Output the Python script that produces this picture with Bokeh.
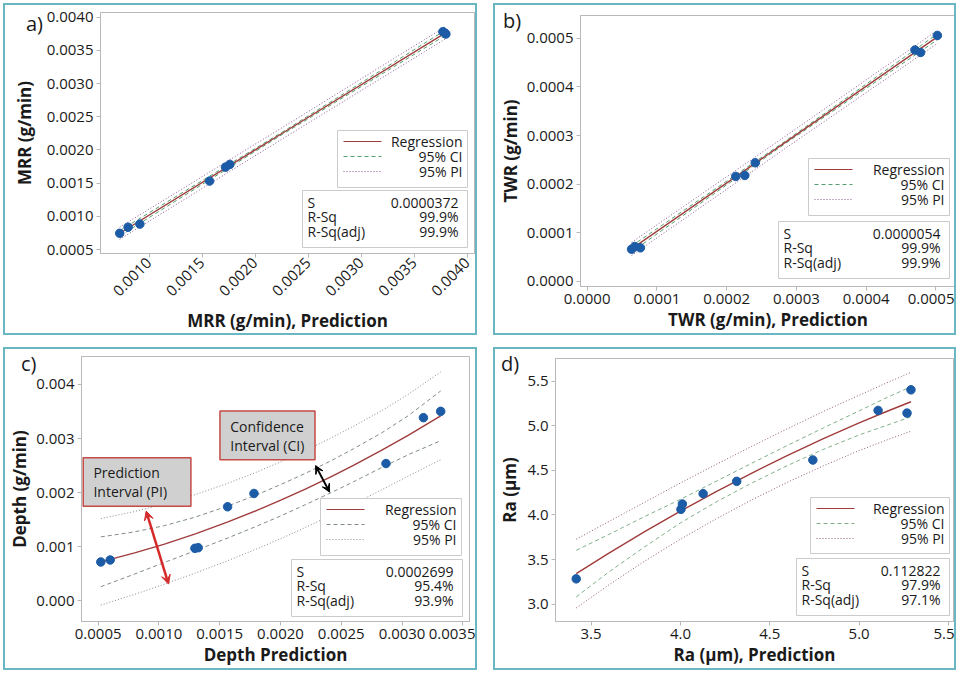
import math
from bokeh.plotting import figure
from bokeh.models import (Range1d, FixedTicker, PrintfTickFormatter, BoxAnnotation,
                          Label, Arrow, VeeHead, GridBox, Div)
from bokeh.embed import file_html
from bokeh.resources import INLINE

FONT = "Open Sans"

# ---------------- data ----------------
# a) MRR
a_pred = [0.000724, 0.000803, 0.000914, 0.001571, 0.001721, 0.001762, 0.003769, 0.003788, 0.003797]
a_obs = [0.000744, 0.000836, 0.000883, 0.001531, 0.001741, 0.001782, 0.003781, 0.003761, 0.003745]
a_fit_x = [0.000724, 0.002260, 0.003797]
a_fit = [0.000745, 0.002255, 0.003768]
a_ci_hi = [0.000785, 0.002273, 0.003808]
a_ci_lo = [0.000705, 0.002237, 0.003728]
a_pi_hi = [0.000837, 0.002341, 0.003860]
a_pi_lo = [0.000653, 0.002169, 0.003676]
a_xticks = [0.0010, 0.0015, 0.0020, 0.0025, 0.0030, 0.0035, 0.0040]
a_yticks = [0.0005, 0.0010, 0.0015, 0.0020, 0.0025, 0.0030, 0.0035, 0.0040]
a_stats = ["0.0000372", "99.9%", "99.9%"]

# b) TWR
b_pred = [0.0000637, 0.0000684, 0.0000764, 0.000213, 0.000226, 0.000241, 0.000470, 0.000478, 0.000502]
b_obs = [0.0000662, 0.0000718, 0.0000690, 0.000216, 0.000218, 0.000244, 0.000476, 0.000471, 0.000506]
b_fit_x = [0.0000637, 0.000283, 0.000502]
b_fit = [0.0000668, 0.000285, 0.000503]
b_ci_hi = [0.0000728, 0.0002875, 0.000509]
b_ci_lo = [0.0000608, 0.0002825, 0.000497]
b_pi_hi = [0.0000803, 0.0002975, 0.0005165]
b_pi_lo = [0.0000533, 0.0002725, 0.0004895]
b_xticks = [0.0000, 0.0001, 0.0002, 0.0003, 0.0004, 0.0005]
b_yticks = [0.0000, 0.0001, 0.0002, 0.0003, 0.0004, 0.0005]
b_stats = ["0.0000054", "99.9%", "99.9%"]

# c) Depth
c_pred = [0.000522, 0.000599, 0.001296, 0.001323, 0.001565, 0.001782, 0.002868, 0.003176, 0.003318]
c_obs = [0.000719, 0.000756, 0.000971, 0.000983, 0.001739, 0.001985, 0.002538, 0.003386, 0.003502]
c_fit_x = [0.000522, 0.000800, 0.001046, 0.001300, 0.001568, 0.001800, 0.002007,
           0.002200, 0.002418, 0.002600, 0.002830, 0.003050, 0.003318]
c_fit = [0.000722, 0.000886, 0.001050, 0.001239, 0.001459, 0.001666, 0.001865,
         0.002062, 0.002297, 0.002505, 0.002781, 0.003060, 0.003420]
c_ci_hi = [0.001182, 0.001276, 0.001390, 0.001549, 0.001754, 0.001956, 0.002155,
           0.002352, 0.002592, 0.002810, 0.003101, 0.003420, 0.003880]
c_ci_lo = [0.000262, 0.000496, 0.000710, 0.000929, 0.001164, 0.001376, 0.001575,
           0.001772, 0.002002, 0.002200, 0.002461, 0.002700, 0.002960]
c_pi_hi = [0.001522, 0.001651, 0.001790, 0.001964, 0.002174, 0.002376, 0.002575,
           0.002772, 0.003012, 0.003225, 0.003511, 0.003815, 0.004230]
c_pi_lo = [-0.000078, 0.000121, 0.000310, 0.000514, 0.000744, 0.000956, 0.001155,
           0.001352, 0.001582, 0.001785, 0.002051, 0.002305, 0.002610]
c_xticks = [0.0005, 0.0010, 0.0015, 0.0020, 0.0025, 0.0030, 0.0035]
c_yticks = [0.000, 0.001, 0.002, 0.003, 0.004]
c_stats = ["0.0002699", "95.4%", "93.9%"]
c_pi_arrow = [0.000895, 0.001660, 0.001079, 0.000310]
c_ci_arrow = [0.002289, 0.002500, 0.002404, 0.002010]
# note boxes: [left, right, bottom, top] and their two text lines
c_note_boxes = [[0.001502, 0.002284, 0.002610, 0.003508],
                [0.000377, 0.001263, 0.001751, 0.002647]]
c_note_lines = [["Confidence", "Interval (CI)"], ["Prediction", "Interval (PI)"]]
c_note_text_x = [0.001587, 0.000461]
c_note_text_y = [[0.003231, 0.002876], [0.002365, 0.002015]]

# d) Ra
d_pred = [3.417, 4.003, 4.011, 4.127, 4.315, 4.741, 5.106, 5.268, 5.290]
d_obs = [3.284, 4.063, 4.123, 4.239, 4.377, 4.616, 5.172, 5.142, 5.403]
d_fit_x = [3.417, 3.600, 3.800, 4.000, 4.200, 4.400, 4.600, 4.800, 5.000, 5.150, 5.290]
d_fit = [3.343, 3.572, 3.813, 4.043, 4.262, 4.470, 4.668, 4.856, 5.032, 5.157, 5.269]
d_ci_hi = [3.604, 3.782, 3.983, 4.175, 4.378, 4.581, 4.781, 4.976, 5.167, 5.312, 5.437]
d_ci_lo = [3.082, 3.362, 3.643, 3.911, 4.146, 4.359, 4.555, 4.736, 4.897, 5.002, 5.101]
d_pi_hi = [3.728, 3.927, 4.143, 4.358, 4.567, 4.770, 4.968, 5.161, 5.342, 5.477, 5.599]
d_pi_lo = [2.958, 3.217, 3.483, 3.728, 3.957, 4.170, 4.368, 4.551, 4.722, 4.837, 4.939]
d_xticks = [3.5, 4.0, 4.5, 5.0, 5.5]
d_yticks = [3.0, 3.5, 4.0, 4.5, 5.0, 5.5]
d_stats = ["0.112822", "97.9%", "97.1%"]

legend_names = ["Regression", "95% CI", "95% PI"]
stat_names = ["S", "R-Sq", "R-Sq(adj)"]

# ---------------- styling ----------------
PT_COLOR = "#1c5ba6"
REG_COLOR = "#a03c3c"
CI_COLOR = "#55a070"
PI_COLOR = "#8e5a94"
GRID_GRAY = "#b8b8b8"
TXT = "#1a1a1a"
BORDER = "2px solid #6ab7c3"


def add_box(p, L, R, B, T):
    p.add_layout(BoxAnnotation(left=L, right=R, bottom=B, top=T,
                               left_units="screen", right_units="screen",
                               bottom_units="screen", top_units="screen",
                               fill_color="white", fill_alpha=1.0,
                               line_color="#cbcbcb", line_alpha=1.0, line_width=1))


def add_legend(p, FW, roff, width, bottom, height, colors, dashes):
    R = FW - roff
    L = R - width
    T = bottom + height
    add_box(p, L, R, bottom, T)
    for name, off, col, dash in zip(legend_names, [11, 26, 41], colors, dashes):
        yc = T - off
        p.add_layout(Arrow(x_start=L + 6, y_start=yc, x_end=L + 44, y_end=yc,
                           start_units="screen", end_units="screen", start=None, end=None,
                           line_color=col, line_dash=dash, line_width=1.2))
        p.add_layout(Label(x=R - 5, y=yc, x_units="screen", y_units="screen", text=name,
                           text_align="right", text_baseline="middle", text_font=FONT,
                           text_font_size="14px", text_color=TXT))


def add_stats(p, FW, roff, width, bottom, height, vals):
    R = FW - roff
    L = R - width
    T = bottom + height
    add_box(p, L, R, bottom, T)
    for name, val, off in zip(stat_names, vals, [12, 26, 41]):
        yc = T - off
        p.add_layout(Label(x=L + 5, y=yc, x_units="screen", y_units="screen", text=name,
                           text_align="left", text_baseline="middle", text_font=FONT,
                           text_font_size="14px", text_color=TXT))
        p.add_layout(Label(x=R - 9, y=yc, x_units="screen", y_units="screen", text=val,
                           text_align="right", text_baseline="middle", text_font=FONT,
                           text_font_size="14px", text_color=TXT))


def make_panel(w, h, bl, br, bt, bb, xr, yr, xticks, yticks, xfmt, yfmt, xlabel, ylabel,
               px, py, fx, fy, cilo, cihi, pilo, pihi, ci_col, pi_col,
               leg, st, vals, rot=False, xstand=2, ystand=2):
    p = figure(width=w, height=h, x_range=Range1d(*xr), y_range=Range1d(*yr),
               output_backend="svg", toolbar_location=None, frame_align=False,
               min_border_left=bl, min_border_right=br, min_border_top=bt, min_border_bottom=bb,
               background_fill_color="white", border_fill_color="white")
    p.styles = {"border": BORDER}
    p.outline_line_color = GRID_GRAY
    p.xgrid.visible = False
    p.ygrid.visible = False
    p.xaxis.ticker = FixedTicker(ticks=xticks)
    p.yaxis.ticker = FixedTicker(ticks=yticks)
    p.xaxis.formatter = PrintfTickFormatter(format=xfmt)
    p.yaxis.formatter = PrintfTickFormatter(format=yfmt)
    p.xaxis.axis_label = xlabel
    p.yaxis.axis_label = ylabel
    for ax in (p.xaxis[0], p.yaxis[0]):
        ax.axis_line_color = GRID_GRAY
        ax.major_tick_line_color = GRID_GRAY
        ax.major_tick_out = 4
        ax.major_tick_in = 0
        ax.major_label_standoff = 3
        ax.minor_tick_line_color = None
        ax.major_label_text_font = FONT
        ax.major_label_text_font_size = "15px"
        ax.major_label_text_color = TXT
        ax.axis_label_text_font = FONT
        ax.axis_label_text_font_size = "17px"
        ax.axis_label_text_font_style = "bold"
        ax.axis_label_text_color = TXT
    p.xaxis.axis_label_standoff = xstand
    p.yaxis.axis_label_standoff = ystand
    if rot:
        p.xaxis.major_label_orientation = math.pi / 4

    p.line(fx, pihi, line_color=pi_col, line_dash="1 2", line_width=1)
    p.line(fx, pilo, line_color=pi_col, line_dash="1 2", line_width=1)
    p.line(fx, cihi, line_color=ci_col, line_dash="4 3", line_width=1)
    p.line(fx, cilo, line_color=ci_col, line_dash="4 3", line_width=1)
    p.line(fx, fy, line_color=REG_COLOR, line_width=1.4)
    p.scatter(px, py, size=8.5, fill_color=PT_COLOR, line_color=PT_COLOR)

    FW = (w - 4) - bl - br
    add_legend(p, FW, leg[0], leg[1], leg[2], leg[3], [REG_COLOR, ci_col, pi_col], ["solid", "4 3", "1 2"])
    add_stats(p, FW, st[0], st[1], st[2], st[3], vals)
    return p


def tag_div(t, left, top):
    return Div(text=t, width=40, height=30, align="start",
               styles={"font-family": FONT, "font-size": "20px", "color": TXT,
                       "padding-left": f"{left}px", "padding-top": f"{top}px",
                       "line-height": "1", "box-sizing": "border-box"})


pa = make_panel(474, 332, 95, 5, 7, 84, (0.000543, 0.004067), (0.00044, 0.00407),
                a_xticks, a_yticks, "%.4f", "%.4f", "MRR (g/min), Prediction", "MRR (g/min)",
                a_pred, a_obs, a_fit_x, a_fit, a_ci_lo, a_ci_hi, a_pi_lo, a_pi_hi,
                CI_COLOR, PI_COLOR, (3, 130, 66, 57), (3, 165, 6, 57), a_stats,
                rot=True, xstand=5, ystand=8)

pb = make_panel(463, 332, 79, 3, 10, 51, (-0.0000095, 0.000528), (-0.0000105, 0.000547),
                b_xticks, b_yticks, "%.4f", "%.4f", "TWR (g/min), Prediction", "TWR (g/min)",
                b_pred, b_obs, b_fit_x, b_fit, b_ci_lo, b_ci_hi, b_pi_lo, b_pi_hi,
                CI_COLOR, PI_COLOR, (8, 141, 71, 57), (8, 171, 8, 57), b_stats,
                xstand=1, ystand=2)

pc = make_panel(474, 323, 72, 10, 7, 51, (0.000363, 0.003555), (-0.000381, 0.004516),
                c_xticks, c_yticks, "%.4f", "%.3f", "Depth Prediction", "Depth (g/min)",
                c_pred, c_obs, c_fit_x, c_fit, c_ci_lo, c_ci_hi, c_pi_lo, c_pi_hi,
                "#7f8c84", "#8a8a8a", (8, 141, 66, 57), (7, 171, 5, 57), c_stats,
                xstand=1, ystand=2)

for box, lines, tx, tys in zip(c_note_boxes, c_note_lines, c_note_text_x, c_note_text_y):
    pc.add_layout(BoxAnnotation(left=box[0], right=box[1], bottom=box[2], top=box[3],
                                fill_color="#d0d0d0", fill_alpha=1.0,
                                line_color="#c44a46", line_alpha=1.0, line_width=1.5))
    for line_txt, ty in zip(lines, tys):
        pc.add_layout(Label(x=tx, y=ty, text=line_txt, text_align="left", text_baseline="middle",
                            text_font=FONT, text_font_size="14px", text_color=TXT))

pc.add_layout(Arrow(x_start=c_pi_arrow[0], y_start=c_pi_arrow[1], x_end=c_pi_arrow[2], y_end=c_pi_arrow[3],
                    line_color="#d42a2a", line_width=2.5,
                    start=VeeHead(size=9, fill_color="#d42a2a", line_color="#d42a2a"),
                    end=VeeHead(size=9, fill_color="#d42a2a", line_color="#d42a2a")))
pc.add_layout(Arrow(x_start=c_ci_arrow[0], y_start=c_ci_arrow[1], x_end=c_ci_arrow[2], y_end=c_ci_arrow[3],
                    line_color="black", line_width=2,
                    start=VeeHead(size=8, fill_color="black", line_color="black"),
                    end=VeeHead(size=8, fill_color="black", line_color="black")))

pd_ = make_panel(463, 323, 57, 5, 9, 51, (3.301, 5.528), (2.806, 5.754),
                 d_xticks, d_yticks, "%.1f", "%.1f", "Ra (\u00b5m), Prediction", "Ra (\u00b5m)",
                 d_pred, d_obs, d_fit_x, d_fit, d_ci_lo, d_ci_hi, d_pi_lo, d_pi_hi,
                 "#7fb08a", "#8e5a7a", (3, 139, 68, 56), (3, 153, 6, 57), d_stats,
                 xstand=1, ystand=3)

grid = GridBox(children=[(pa, 0, 0), (tag_div("a)", 18, 6), 0, 0),
                         (pb, 0, 1), (tag_div("b)", 5, 3), 0, 1),
                         (pc, 1, 0), (tag_div("c)", 13, 2), 1, 0),
                         (pd_, 1, 1), (tag_div("d)", 3, 2), 1, 1)],
               spacing=(12, 16), margin=(3, 0, 0, 3))

open("out.html", "w").write(file_html(grid, INLINE))
